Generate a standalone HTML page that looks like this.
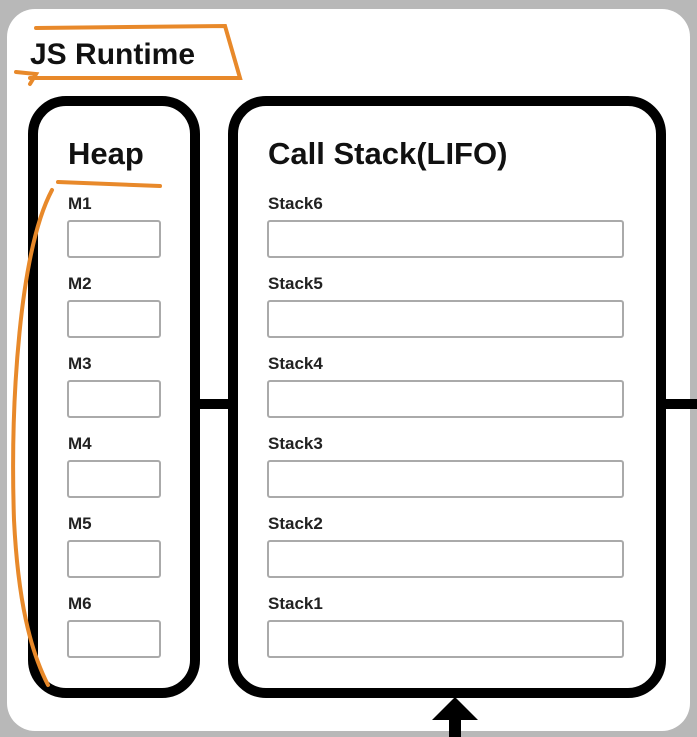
<!DOCTYPE html>
<html><head><style>
body{margin:0;width:697px;height:737px;overflow:hidden;background:#b8b8b8;font-family:"Liberation Sans","DejaVu Sans",sans-serif;}
.outer{position:absolute;left:7px;top:9px;width:683px;height:722px;background:#fff;border-radius:28px;}
.box{position:absolute;border:10px solid #000;border-radius:38px;background:#fff;box-sizing:border-box;}
.t{position:absolute;color:#111;white-space:nowrap;font-weight:bold;}
.lbl{position:absolute;font-size:17px;color:#222;font-weight:bold;}
.in{position:absolute;border:2px solid #aaa;border-radius:3px;box-sizing:border-box;height:38px;background:#fff;}
</style></head><body>
<div class="outer"></div>
<div class="t" style="left:30px;top:38px;font-size:30px;">JS Runtime</div>
<div style="position:absolute;left:198px;top:399px;width:30px;height:10px;background:#000"></div>
<div style="position:absolute;left:664px;top:399px;width:33px;height:10px;background:#000"></div>
<div class="box" style="left:28px;top:96px;width:172px;height:602px;"></div>
<div class="box" style="left:228px;top:96px;width:438px;height:602px;"></div>
<div class="t" style="left:68px;top:136px;font-size:31px;">Heap</div>
<div class="t" style="left:268px;top:136px;font-size:31px;">Call Stack(LIFO)</div>
<div id="rows"></div>
<script>
var h='';var s=['6','5','4','3','2','1'];
for(var i=0;i<6;i++){var y=220+i*80;
h+='<div class="lbl" style="left:68px;top:'+(y-26)+'px">M'+(i+1)+'</div><div class="in" style="left:67px;top:'+y+'px;width:94px"></div>';
h+='<div class="lbl" style="left:268px;top:'+(y-26)+'px">Stack'+s[i]+'</div><div class="in" style="left:267px;top:'+y+'px;width:357px"></div>';}
document.getElementById('rows').innerHTML=h;
</script>
<svg width="697" height="737" style="position:absolute;left:0;top:0">
<polygon points="455,697 432,720 478,720" fill="#000"/>
<rect x="449" y="718" width="12" height="20" fill="#000"/>
<g fill="none" stroke="#e8892a" stroke-width="4" stroke-linecap="round">
<path d="M36,28 L225,26 L240,78 L30,78 M16,72 L36,74 L30,84"/>
<path d="M58,182 L160,186"/>
<path d="M52,190 C20,250 10,400 14,520 C18,600 30,650 48,685"/>
</g>
</svg>
</body></html>
